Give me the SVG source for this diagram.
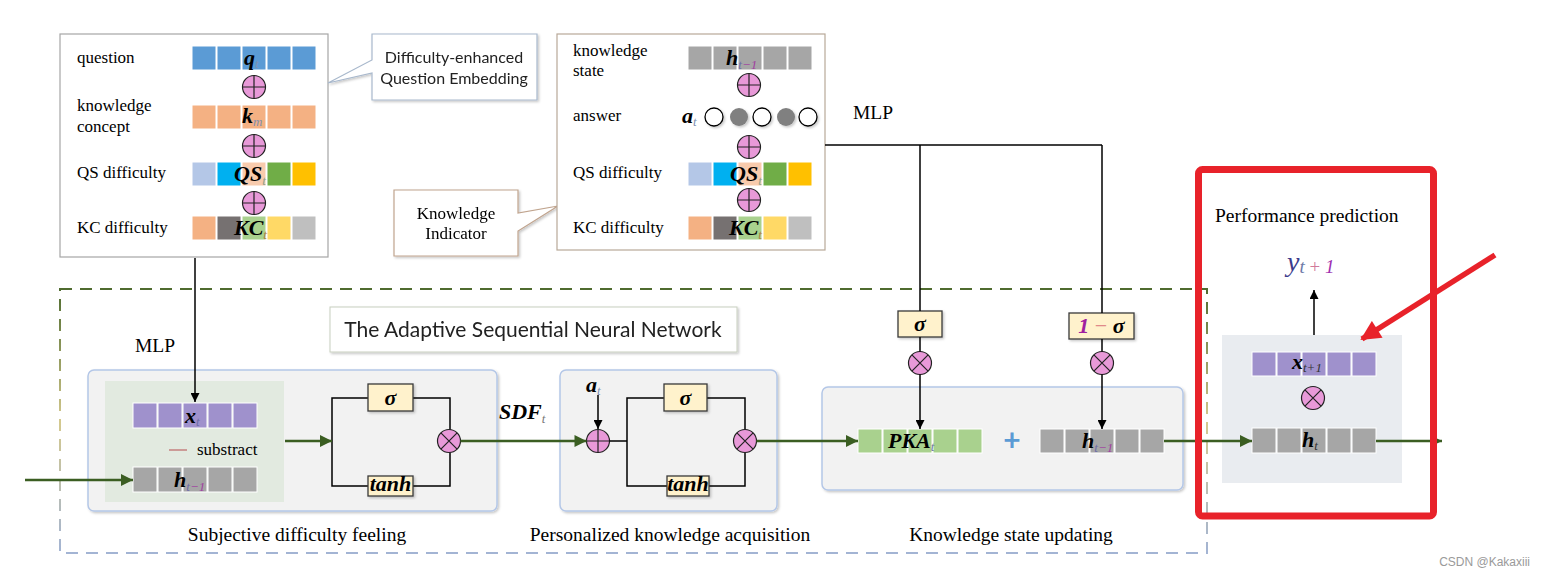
<svg xmlns="http://www.w3.org/2000/svg" xmlns:xlink="http://www.w3.org/1999/xlink" width="1544" height="575" viewBox="0 0 1544 575">
<style>
.lbl{font-family:"Liberation Serif","Times New Roman",serif;font-size:17px;fill:#000}
.cap{font-family:"Liberation Serif","Times New Roman",serif;font-size:19.5px;fill:#000}
.sans{font-family:Lato,"Open Sans",sans-serif;fill:#222}
.m{font-family:"Liberation Serif","Times New Roman",serif;font-weight:bold;font-style:italic;font-size:22px;fill:#000}
.s{font-weight:normal;font-size:13px}
.cell{stroke:#fff;stroke-width:1}
.gate{fill:#fff2cc;stroke:#3a3a3a;stroke-width:1.3}
.blk{stroke:#000;stroke-width:1.5;fill:none}
.grn{stroke:#3b5e22;stroke-width:2.5;fill:none}
.mod{fill:#f2f2f2;stroke:#b4c7e7;stroke-width:1.5}
</style>
<defs>
<filter id="sh" x="-20%" y="-20%" width="140%" height="140%"><feDropShadow dx="1.5" dy="1.5" stdDeviation="1.2" flood-color="#000" flood-opacity="0.22"/></filter>
<marker id="ab" viewBox="0 0 10 10" refX="10" refY="5" markerWidth="10" markerHeight="9" markerUnits="userSpaceOnUse" orient="auto"><path d="M0,0 L10,5 L0,10 z" fill="#000"/></marker>
<marker id="ag" viewBox="0 0 10 10" refX="10" refY="5" markerWidth="14" markerHeight="12" markerUnits="userSpaceOnUse" orient="auto"><path d="M0,0 L10,5 L0,10 z" fill="#3b5e22"/></marker>
<marker id="ar" viewBox="0 0 10 10" refX="9" refY="5" markerWidth="22" markerHeight="20" markerUnits="userSpaceOnUse" orient="auto"><path d="M0,0 L10,5 L0,10 z" fill="#e8222a"/></marker>
<linearGradient id="dg" gradientUnits="userSpaceOnUse" x1="0" y1="289" x2="0" y2="553"><stop offset="0" stop-color="#4f6b2f"/><stop offset="0.5" stop-color="#d4c98e"/><stop offset="1" stop-color="#a3b4d4"/></linearGradient>
<g id="op"><circle r="11.5" fill="#e899d8" stroke="#222" stroke-width="1.2"/><path d="M-11.5,0H11.5M0,-11.5V11.5" stroke="#222" stroke-width="1.2"/></g>
<g id="ot"><circle r="11.5" fill="#e899d8" stroke="#222" stroke-width="1.2"/><path d="M-8.1,-8.1L8.1,8.1M-8.1,8.1L8.1,-8.1" stroke="#222" stroke-width="1.2"/></g>
</defs>
<rect width="1544" height="575" fill="#fff"/>

<!-- dashed outer frame -->
<g id="frame">
<rect x="60" y="289" width="1147" height="264" fill="none" stroke="url(#dg)" stroke-width="2" stroke-dasharray="12 8"/>
</g>

<!-- top-left: question embedding -->
<g id="qembed">
<rect x="60" y="34" width="268" height="223" fill="#fff" stroke="#a6a6a6" stroke-width="1.2"/>
<text class="lbl" x="77" y="63">question</text>
<text class="lbl" x="77" y="111">knowledge</text>
<text class="lbl" x="77" y="132">concept</text>
<text class="lbl" x="77" y="178">QS difficulty</text>
<text class="lbl" x="77" y="233">KC difficulty</text>
<g class="cell">
<rect x="192" y="46" width="24" height="24" fill="#5b9bd5"/><rect x="217" y="46" width="24" height="24" fill="#5b9bd5"/><rect x="242" y="46" width="24" height="24" fill="#5b9bd5"/><rect x="267" y="46" width="24" height="24" fill="#5b9bd5"/><rect x="292" y="46" width="24" height="24" fill="#5b9bd5"/>
<rect x="192" y="105" width="24" height="24" fill="#f4b183"/><rect x="217" y="105" width="24" height="24" fill="#f4b183"/><rect x="242" y="105" width="24" height="24" fill="#f4b183"/><rect x="267" y="105" width="24" height="24" fill="#f4b183"/><rect x="292" y="105" width="24" height="24" fill="#f4b183"/>
<rect x="192" y="162" width="24" height="24" fill="#b4c7e7"/><rect x="217" y="162" width="24" height="24" fill="#00b0f0"/><rect x="242" y="162" width="24" height="24" fill="#f8cbad"/><rect x="267" y="162" width="24" height="24" fill="#70ad47"/><rect x="292" y="162" width="24" height="24" fill="#ffc000"/>
<rect x="192" y="216" width="24" height="24" fill="#f4b183"/><rect x="217" y="216" width="24" height="24" fill="#767171"/><rect x="242" y="216" width="24" height="24" fill="#a9d18e"/><rect x="267" y="216" width="24" height="24" fill="#ffd966"/><rect x="292" y="216" width="24" height="24" fill="#bfbfbf"/>
</g>
<text class="m" x="244" y="65">q<tspan class="s" fill="#7f8fb0" dy="3">t</tspan></text>
<text class="m" x="242" y="123">k<tspan class="s" fill="#7f8fb0" dy="3">m</tspan></text>
<text class="m" x="234" y="181">QS<tspan class="s" fill="#8ea08a" dy="4">t</tspan></text>
<text class="m" x="234" y="235">KC<tspan class="s" fill="#b08040" dy="4">t</tspan></text>
<use xlink:href="#op" x="254" y="87"/>
<use xlink:href="#op" x="254" y="146"/>
<use xlink:href="#op" x="254" y="203"/>
</g>

<!-- callout 1 -->
<g id="callout1" filter="url(#sh)">
<path d="M372,34 H537 V100 H372 V73 L328,83 L372,60 Z" fill="#fff" stroke="#a8b8cc" stroke-width="1.2"/>
<text class="sans" x="454" y="63" font-size="16" text-anchor="middle">Difficulty-enhanced</text>
<text class="sans" x="454" y="84" font-size="16" text-anchor="middle">Question Embedding</text>
</g>

<!-- callout 2 -->
<g id="callout2" filter="url(#sh)">
<path d="M394,190 H518 V213 L558,206 L518,231 V256 H394 Z" fill="#fff" stroke="#c0a48e" stroke-width="1.2"/>
<text class="lbl" x="456" y="219" text-anchor="middle">Knowledge</text>
<text class="lbl" x="456" y="239" text-anchor="middle">Indicator</text>
</g>

<!-- top-middle: knowledge indicator -->
<g id="kindicator">
<rect x="557" y="34" width="268" height="216" fill="#fff" stroke="#b8a898" stroke-width="1.2"/>
<text class="lbl" x="573" y="56">knowledge</text>
<text class="lbl" x="573" y="76">state</text>
<text class="lbl" x="573" y="121">answer</text>
<text class="lbl" x="573" y="178">QS difficulty</text>
<text class="lbl" x="573" y="233">KC difficulty</text>
<g class="cell">
<rect x="688" y="46" width="24" height="24" fill="#a6a6a6"/><rect x="713" y="46" width="24" height="24" fill="#a6a6a6"/><rect x="738" y="46" width="24" height="24" fill="#a6a6a6"/><rect x="763" y="46" width="24" height="24" fill="#a6a6a6"/><rect x="788" y="46" width="24" height="24" fill="#a6a6a6"/>
<rect x="688" y="162" width="24" height="24" fill="#b4c7e7"/><rect x="713" y="162" width="24" height="24" fill="#00b0f0"/><rect x="738" y="162" width="24" height="24" fill="#f8cbad"/><rect x="763" y="162" width="24" height="24" fill="#70ad47"/><rect x="788" y="162" width="24" height="24" fill="#ffc000"/>
<rect x="688" y="216" width="24" height="24" fill="#f4b183"/><rect x="713" y="216" width="24" height="24" fill="#767171"/><rect x="738" y="216" width="24" height="24" fill="#a9d18e"/><rect x="763" y="216" width="24" height="24" fill="#ffd966"/><rect x="788" y="216" width="24" height="24" fill="#bfbfbf"/>
</g>
<text class="m" x="726" y="65">h<tspan class="s" fill="#6d6da8" dy="4">t</tspan><tspan class="s" fill="#a040a0">−1</tspan></text>
<text class="m" x="682" y="123">a<tspan class="s" fill="#7f8fb0" dy="3">t</tspan></text>
<g filter="url(#sh)">
<circle cx="714" cy="117" r="9" fill="#fff" stroke="#000" stroke-width="1.3"/>
<circle cx="739" cy="117" r="9" fill="#808080"/>
<circle cx="762" cy="117" r="9" fill="#fff" stroke="#000" stroke-width="1.3"/>
<circle cx="786" cy="117" r="9" fill="#808080"/>
<circle cx="808" cy="117" r="9" fill="#fff" stroke="#000" stroke-width="1.3"/>
</g>
<text class="m" x="730" y="181">QS<tspan class="s" fill="#8ea08a" dy="4">t</tspan></text>
<text class="m" x="729" y="235">KC<tspan class="s" fill="#b08040" dy="4">t</tspan></text>
<use xlink:href="#op" x="749" y="85"/>
<use xlink:href="#op" x="749" y="147"/>
<use xlink:href="#op" x="749" y="200"/>
</g>

<text class="cap" x="853" y="119">MLP</text>
<text class="cap" x="135" y="352">MLP</text>

<!-- title -->
<g id="title" filter="url(#sh)">
<rect x="330" y="307" width="407" height="45" fill="#fff" stroke="#c8cfbf" stroke-width="1"/>
<text class="sans" x="533" y="337" font-size="21" text-anchor="middle">The Adaptive Sequential Neural Network</text>
</g>

<!-- module 1 -->
<g id="sdf">
<rect class="mod" x="88" y="370" width="409" height="141" rx="6" filter="url(#sh)"/>
<rect x="105" y="381" width="179" height="121" fill="#e2eae0"/>
<g class="cell">
<rect x="133" y="403" width="24" height="25" fill="#9f91cc"/><rect x="158" y="403" width="24" height="25" fill="#9f91cc"/><rect x="183" y="403" width="24" height="25" fill="#9f91cc"/><rect x="208" y="403" width="24" height="25" fill="#9f91cc"/><rect x="233" y="403" width="24" height="25" fill="#9f91cc"/>
<rect x="133" y="467" width="24" height="25" fill="#a6a6a6"/><rect x="158" y="467" width="24" height="25" fill="#a6a6a6"/><rect x="183" y="467" width="24" height="25" fill="#a6a6a6"/><rect x="208" y="467" width="24" height="25" fill="#a6a6a6"/><rect x="233" y="467" width="24" height="25" fill="#a6a6a6"/>
</g>
<text class="m" x="185" y="423">x<tspan class="s" fill="#6d6da8" dy="3">t</tspan></text>
<text class="m" x="174" y="487">h<tspan class="s" fill="#6d6da8" dy="4">t</tspan><tspan class="s" fill="#a040a0">−1</tspan></text>
<line x1="169" y1="450" x2="187" y2="450" stroke="#c07070" stroke-width="1.3"/>
<text class="lbl" x="197" y="455">substract</text>
<path d="M332,398 H450 V486 H332 Z" class="blk"/>
<rect class="gate" x="368" y="384" width="45" height="27" filter="url(#sh)"/>
<text class="m" x="390.5" y="405" text-anchor="middle">σ</text>
<rect class="gate" x="368" y="476" width="45" height="20" filter="url(#sh)"/>
<text class="m" x="390.5" y="491" font-size="14" text-anchor="middle">tanh</text>
<use xlink:href="#ot" x="449" y="441"/>
</g>

<!-- module 2 -->
<g id="pka">
<rect class="mod" x="560" y="370" width="217" height="141" rx="6" filter="url(#sh)"/>
<text class="m" x="586" y="392">a<tspan class="s" fill="#7f8fb0" dy="3">t</tspan></text>
<path d="M627,398 H745 V486 H627 Z" class="blk"/>
<rect class="gate" x="664" y="384" width="43" height="27" filter="url(#sh)"/>
<text class="m" x="685.5" y="405" text-anchor="middle">σ</text>
<rect class="gate" x="667" y="476" width="42" height="20" filter="url(#sh)"/>
<text class="m" x="688" y="491" font-size="14" text-anchor="middle">tanh</text>
<use xlink:href="#op" x="598" y="441"/>
<use xlink:href="#ot" x="745" y="441"/>
</g>
<text class="m" x="499" y="419">SDF<tspan class="s" fill="#777" dy="4">t</tspan></text>

<!-- module 3 -->
<g id="ksu">
<rect class="mod" x="822" y="387" width="361" height="103" rx="6" filter="url(#sh)"/>
<g class="cell">
<rect x="858" y="429" width="24" height="24" fill="#a9d18e"/><rect x="883" y="429" width="24" height="24" fill="#a9d18e"/><rect x="908" y="429" width="24" height="24" fill="#a9d18e"/><rect x="933" y="429" width="24" height="24" fill="#a9d18e"/><rect x="958" y="429" width="24" height="24" fill="#a9d18e"/>
<rect x="1040" y="429" width="24" height="24" fill="#a6a6a6"/><rect x="1065" y="429" width="24" height="24" fill="#a6a6a6"/><rect x="1090" y="429" width="24" height="24" fill="#a6a6a6"/><rect x="1115" y="429" width="24" height="24" fill="#a6a6a6"/><rect x="1140" y="429" width="24" height="24" fill="#a6a6a6"/>
</g>
<text class="m" x="888" y="448" font-size="23">PKA<tspan class="s" fill="#6d7aa0" dy="3">t</tspan></text>
<text class="sans" x="1012" y="451" font-size="30" font-weight="bold" text-anchor="middle" style="fill:#5b9bd5">+</text>
<text class="m" x="1082" y="448">h<tspan class="s" fill="#6d6da8" dy="4">t</tspan><tspan class="s" fill="#a040a0">−1</tspan></text>
</g>
<g id="sig1">
<rect class="gate" x="898" y="311" width="44" height="26" filter="url(#sh)"/>
<text class="m" x="920" y="331" text-anchor="middle">σ</text>
<use xlink:href="#ot" x="920" y="363"/>
</g>
<g id="sig2">
<rect class="gate" x="1069" y="313" width="65" height="26" filter="url(#sh)"/>
<text class="m" x="1101.5" y="333" text-anchor="middle"><tspan fill="#a020a0">1</tspan><tspan fill="#e08a8a" font-weight="normal" font-style="normal"> − </tspan>σ</text>
<use xlink:href="#ot" x="1102" y="363"/>
</g>

<!-- prediction -->
<g id="pred">
<rect x="1222" y="335" width="180" height="148" fill="#e9ecf0"/>
<g class="cell">
<rect x="1252" y="352" width="24" height="24" fill="#9f91cc"/><rect x="1277" y="352" width="24" height="24" fill="#9f91cc"/><rect x="1302" y="352" width="24" height="24" fill="#9f91cc"/><rect x="1327" y="352" width="24" height="24" fill="#9f91cc"/><rect x="1352" y="352" width="24" height="24" fill="#9f91cc"/>
<rect x="1252" y="428" width="24" height="25" fill="#a6a6a6"/><rect x="1277" y="428" width="24" height="25" fill="#a6a6a6"/><rect x="1302" y="428" width="24" height="25" fill="#a6a6a6"/><rect x="1327" y="428" width="24" height="25" fill="#a6a6a6"/><rect x="1352" y="428" width="24" height="25" fill="#a6a6a6"/>
</g>
<text class="m" x="1292" y="369">x<tspan class="s" fill="#333" dy="3">t+1</tspan></text>
<text class="m" x="1302" y="447">h<tspan class="s" fill="#333" dy="3">t</tspan></text>
<use xlink:href="#ot" x="1313" y="398"/>
<text class="cap" x="1215" y="222" font-size="20">Performance prediction</text>
<text x="1287" y="271" font-family="'Liberation Serif',serif" font-style="italic" font-size="28" fill="#3c3c8c">y<tspan font-size="19" fill="#6d7aa8" dy="2">t</tspan><tspan font-size="19" fill="#d07a9a" font-style="normal"> + </tspan><tspan font-size="19" fill="#a030b0">1</tspan></text>
</g>

<!-- connectors -->
<g id="connectors">
<line x1="195" y1="258" x2="195" y2="402" class="blk" marker-end="url(#ab)"/>
<line x1="825" y1="145" x2="1102" y2="145" class="blk"/>
<line x1="920" y1="145" x2="920" y2="311" class="blk"/>
<line x1="1102" y1="145" x2="1102" y2="313" class="blk"/>
<line x1="920" y1="337" x2="920" y2="351.5" class="blk"/>
<line x1="1102" y1="339" x2="1102" y2="351.5" class="blk"/>
<line x1="920" y1="374.5" x2="920" y2="429" class="blk" marker-end="url(#ab)"/>
<line x1="1102" y1="374.5" x2="1102" y2="429" class="blk" marker-end="url(#ab)"/>
<line x1="598" y1="395" x2="598" y2="429" class="blk" marker-end="url(#ab)"/>
<line x1="609.5" y1="441" x2="627" y2="441" class="blk"/>
<line x1="1314" y1="335" x2="1314" y2="290" class="blk" marker-end="url(#ab)"/>
<line x1="25" y1="480" x2="133" y2="480" class="grn" marker-end="url(#ag)"/>
<line x1="285" y1="441" x2="332" y2="441" class="grn" marker-end="url(#ag)"/>
<line x1="460.5" y1="441" x2="586.5" y2="441" class="grn" marker-end="url(#ag)"/>
<line x1="756.5" y1="441" x2="858" y2="441" class="grn" marker-end="url(#ag)"/>
<line x1="1164" y1="441" x2="1252" y2="441" class="grn" marker-end="url(#ag)"/>
<line x1="1376" y1="441" x2="1442" y2="441" class="grn" marker-end="url(#ag)"/>
</g>

<text class="cap" x="297" y="541" text-anchor="middle">Subjective difficulty feeling</text>
<text class="cap" x="670" y="541" text-anchor="middle">Personalized knowledge acquisition</text>
<text class="cap" x="1011" y="541" text-anchor="middle">Knowledge state updating</text>

<!-- highlight -->
<g id="highlight">
<rect x="1198.5" y="169.5" width="235" height="346.5" rx="4" fill="none" stroke="#e8222a" stroke-width="7"/>
<line x1="1495" y1="255" x2="1362" y2="339" stroke="#e8222a" stroke-width="5.5" marker-end="url(#ar)"/>
</g>

<text x="1530" y="566" font-family="'Liberation Sans',sans-serif" font-size="12" fill="#9a9a9a" text-anchor="end">CSDN @Kakaxiii</text>
</svg>
